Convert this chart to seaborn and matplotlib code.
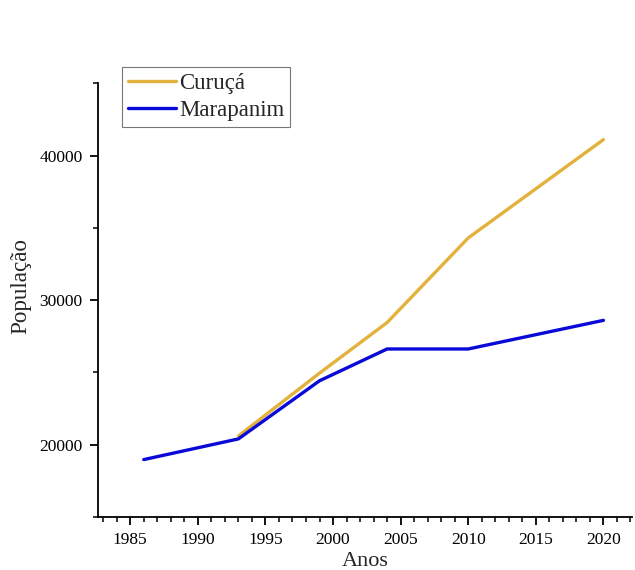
import matplotlib
matplotlib.use("Agg")
import matplotlib.pyplot as plt
from matplotlib.ticker import MultipleLocator
import pandas as pd
import seaborn as sns

# Population by census / estimate year
curuca_years = [1993, 1999, 2004, 2010, 2020]
curuca_pop = [20600, 24950, 28450, 34300, 41100]
marapanim_years = [1986, 1993, 1999, 2004, 2010, 2020]
marapanim_pop = [18970, 20400, 24420, 26620, 26620, 28600]

series_names = ["Curuçá", "Marapanim"]
series_colors = ["#E3B23C", "#0A0AD8"]

df = pd.concat([
    pd.DataFrame({"Anos": curuca_years, "População": curuca_pop, "Município": series_names[0]}),
    pd.DataFrame({"Anos": marapanim_years, "População": marapanim_pop, "Município": series_names[1]}),
], ignore_index=True)

sns.set_style("ticks")
plt.rcParams["font.family"] = ["Liberation Serif", "DejaVu Serif"]

fig = plt.figure(figsize=(6.35, 5.7), dpi=100)
ax = fig.add_axes([0.154, 0.093, 0.841, 0.761])

sns.lineplot(data=df, x="Anos", y="População", hue="Município",
             palette=dict(zip(series_names, series_colors)),
             linewidth=2.4, ax=ax, sort=True)

ax.set_xlim(1982.6, 2022.1)
ax.set_ylim(15000, 45000)
ax.xaxis.set_major_locator(MultipleLocator(5))
ax.xaxis.set_minor_locator(MultipleLocator(1))
ax.yaxis.set_major_locator(MultipleLocator(10000))
ax.yaxis.set_minor_locator(MultipleLocator(5000))
ax.set_yticks([20000, 30000, 40000])

for side in ("top", "right"):
    ax.spines[side].set_visible(False)
for side in ("left", "bottom"):
    ax.spines[side].set_linewidth(1.3)
    ax.spines[side].set_color("black")

ax.tick_params(axis="both", which="major", direction="out", length=6, width=1.3,
               labelsize=12.5, colors="black", pad=5)
ax.tick_params(axis="both", which="minor", direction="out", length=3.5, width=1.1,
               colors="black")

ax.set_xlabel("Anos", fontsize=16)
ax.set_ylabel("População", fontsize=16.7)
ax.xaxis.set_label_coords(0.5, -0.08)
ax.yaxis.set_label_coords(-0.125, 0.532)

leg = ax.legend(loc="upper left", bbox_to_anchor=(0.045, 1.037), fontsize=16.5,
                frameon=True, fancybox=False, handlelength=2.1, handletextpad=0.15,
                borderpad=0.25, labelspacing=0.28, borderaxespad=0)
leg.get_frame().set_edgecolor("#555555")
leg.get_frame().set_linewidth(0.8)
for line in leg.get_lines():
    line.set_linewidth(2.4)

fig.savefig("out.png", dpi=100)
